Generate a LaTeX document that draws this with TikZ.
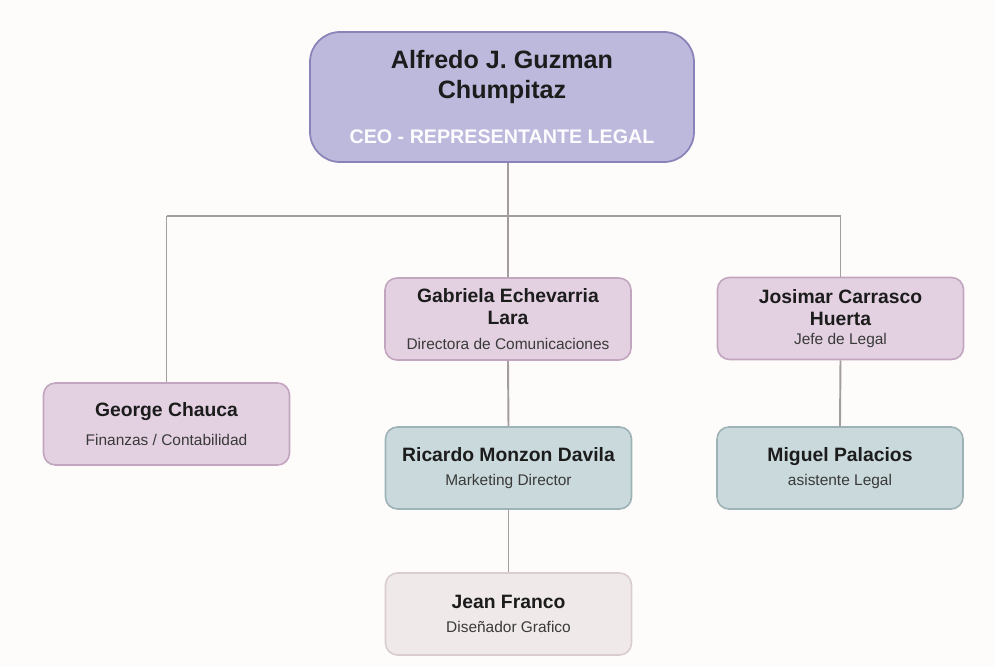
\documentclass[tikz,border=0pt]{standalone}
\usepackage{fontspec}
\setmainfont{Liberation Sans}
\usetikzlibrary{positioning,calc}

\definecolor{bgcol}{HTML}{FDFCFA}
\definecolor{ceofill}{HTML}{BDB9DD}
\definecolor{ceoline}{HTML}{8A83B8}
\definecolor{pinkfill}{HTML}{E3D1E1}
\definecolor{pinkline}{HTML}{C2A6BF}
\definecolor{bluefill}{HTML}{CAD9DC}
\definecolor{blueline}{HTML}{9DB3B7}
\definecolor{greyfill}{HTML}{EFEAE9}
\definecolor{greyline}{HTML}{D9CECD}
\definecolor{linkcol}{HTML}{A39D9D}
\definecolor{inkcol}{HTML}{1C1C1C}
\definecolor{rolecol}{HTML}{3A3A3A}

\newcommand{\nmfont}{\fontsize{11}{12.5}\selectfont\bfseries\color{inkcol}}
\newcommand{\rlfont}{\fontsize{8.8}{10}\selectfont\mdseries\color{rolecol}}

\begin{document}
\begin{tikzpicture}[
    box/.style={draw, line width=0.9pt, rounded corners=0.24cm, align=center,
        minimum width=4.92cm, minimum height=1.64cm, inner sep=2pt, font=\nmfont},
    pinkbox/.style={box, fill=pinkfill, draw=pinkline},
    bluebox/.style={box, fill=bluefill, draw=blueline},
    greybox/.style={box, fill=greyfill, draw=greyline},
    link/.style={draw=linkcol, line width=1.1pt}
  ]
    \fill[bgcol] (0,0) rectangle (19.88,-13.34);
    \useasboundingbox (0,0) rectangle (19.88,-13.34);

    % CEO
    \node[draw=ceoline, fill=ceofill, line width=1pt, rounded corners=0.6cm,
          minimum width=7.68cm, minimum height=2.6cm, align=center,
          font=\fontsize{14.3}{17}\selectfont\bfseries\color{inkcol}] (ceo) at (10.04,-1.94)
        {Alfredo J. Guzman\\ Chumpitaz\\[9pt]
         {\fontsize{11.2}{12}\selectfont\color{white!95!ceofill}CEO - REPRESENTANTE LEGAL}};

    % First level
    \node[pinkbox] (gabriela) at (10.16,-6.38)
        {Gabriela Echevarria\\ Lara\\[1.5pt] {\rlfont Directora de Comunicaciones}};
    \node[pinkbox] (josimar) at (16.81,-6.37)
        {Josimar Carrasco\\ Huerta\\[-1.5pt] {\rlfont Jefe de Legal}};
    \node[pinkbox] (george) at (3.33,-8.48)
        {George Chauca\\[4pt] {\rlfont Finanzas / Contabilidad}};

    % Second level
    \node[bluebox] (ricardo) at (10.17,-9.36)
        {Ricardo Monzon Davila\\[1.5pt] {\rlfont Marketing Director}};
    \node[bluebox] (miguel) at (16.80,-9.36)
        {Miguel Palacios\\[1.5pt] {\rlfont asistente Legal}};

    % Third level
    \node[greybox] (jean) at (10.17,-12.28)
        {Jean Franco\\[1.5pt] {\rlfont Diseñador Grafico}};

    % Connectors
    \coordinate (bus) at (10.16,-4.32);
    \draw[link] (ceo.south -| gabriela.north) -- (gabriela.north);
    \draw[link] (bus -| george.north) -- (bus -| josimar.north);
    \draw[link] (bus -| george.north) -- (george.north);
    \draw[link] (bus -| josimar.north) -- (josimar.north);
    \draw[link] (gabriela.south) -- (ricardo.north);
    \draw[link] (josimar.south) -- (miguel.north);
    \draw[link] (ricardo.south) -- (jean.north);
\end{tikzpicture}
\end{document}
